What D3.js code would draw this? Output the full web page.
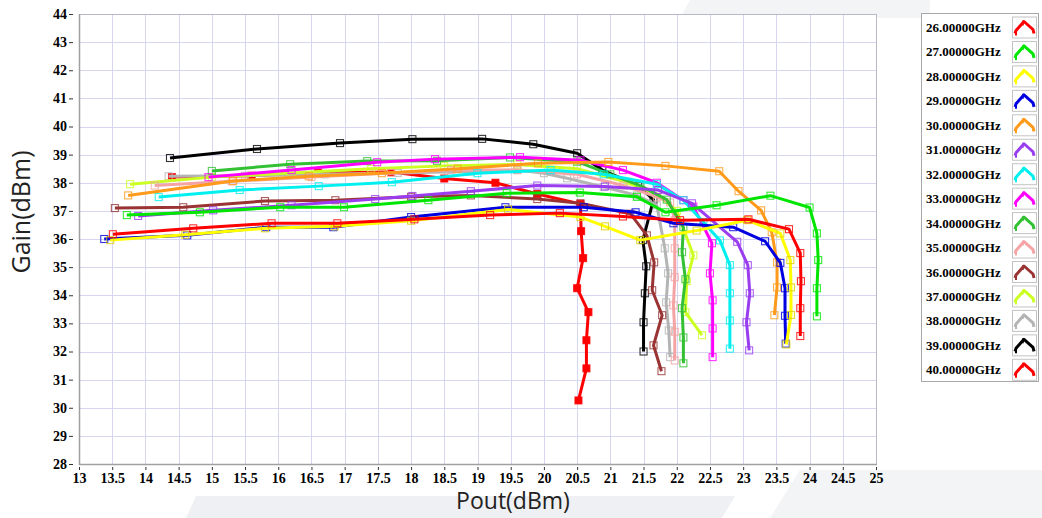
<!DOCTYPE html>
<html>
<head>
<meta charset="utf-8">
<script src="https://cdn.jsdelivr.net/npm/d3@7"></script>
<style>
  html, body { margin: 0; padding: 0; background: #ffffff; }
  svg { display: block; }
</style>
</head>
<body>
<svg id="chart" width="1042" height="518"></svg>
<script>
// ---------------- DATA ----------------
const seriesNames = ["26.00000GHz","27.00000GHz","28.00000GHz","29.00000GHz","30.00000GHz",
  "31.00000GHz","32.00000GHz","33.00000GHz","34.00000GHz","35.00000GHz",
  "36.00000GHz","37.00000GHz","38.00000GHz","39.00000GHz","40.00000GHz"];
const seriesColors = ["#ff0000","#00e600","#ffff00","#0000e0","#ff9a1a",
  "#9a3cf0","#00f0f0","#ff00ff","#33c033","#f4a4a4",
  "#9a3434","#ccff22","#b4b4b4","#000000","#ff0000"];

// [Pout, Gain] pairs
const s26 = [[13.51,36.17],[14.72,36.38],[15.9,36.56],[16.89,36.56],[18.05,36.7],[19.19,36.85],[20.24,36.92],[21.19,36.8],[22.05,36.67],[23.08,36.7],[23.69,36.35],[23.86,35.5],[23.87,34.5],[23.86,33.54],[23.86,32.55]];
const s27 = [[13.72,36.85],[14.82,36.95],[16.03,37.13],[16.99,37.13],[18.26,37.38],[19.44,37.63],[20.54,37.65],[21.4,37.5],[21.83,36.95],[22.6,37.2],[23.41,37.54],[24.0,37.12],[24.11,36.2],[24.13,35.25],[24.11,34.25],[24.11,33.25]];
const s28 = [[13.47,35.96],[14.6,36.15],[15.8,36.38],[16.85,36.45],[18.0,36.65],[19.46,37.05],[20.55,36.78],[20.92,36.45],[21.45,35.96],[22.3,36.3],[23.06,36.67],[23.56,36.2],[23.71,35.25],[23.72,34.28],[23.72,33.3],[23.65,32.25]];
const s29 = [[13.38,36.0],[14.63,36.13],[15.82,36.42],[16.83,36.42],[18.0,36.78],[19.42,37.13],[20.6,37.13],[21.38,36.95],[21.95,36.56],[22.85,36.42],[23.33,35.92],[23.56,35.15],[23.63,34.25],[23.63,33.27],[23.64,32.28]];
const s30 = [[13.74,37.55],[15.32,38.06],[16.46,38.23],[17.56,38.34],[18.7,38.5],[19.91,38.69],[20.97,38.74],[21.83,38.6],[22.64,38.41],[22.93,37.7],[23.27,37.02],[23.43,36.24],[23.51,35.17],[23.51,34.28],[23.47,33.29]];
const s31 = [[13.89,36.82],[15.02,37.02],[16.2,37.2],[17.46,37.42],[18.02,37.53],[18.9,37.7],[19.9,37.9],[20.92,37.87],[21.72,37.74],[22.23,37.27],[22.91,35.9],[23.07,35.07],[23.1,34.07],[23.05,33.04],[23.09,32.04]];
const s32 = [[14.2,37.49],[15.42,37.74],[16.61,37.88],[17.71,38.02],[19.0,38.34],[20.1,38.45],[20.9,38.3],[21.7,37.95],[22.1,37.38],[22.4,36.6],[22.65,35.95],[22.8,35.07],[22.8,34.07],[22.8,33.1],[22.8,32.1]];
const s33 = [[14.95,38.2],[16.2,38.45],[17.49,38.73],[18.36,38.84],[19.64,38.91],[20.55,38.8],[21.19,38.45],[21.7,38.0],[22.1,37.38],[22.25,37.15],[22.53,35.85],[22.5,34.78],[22.54,33.82],[22.54,32.82],[22.54,31.8]];
const s34 = [[15.0,38.42],[16.18,38.66],[17.34,38.77],[18.39,38.78],[19.49,38.9],[20.5,38.75],[21.0,38.3],[21.45,37.9],[21.85,37.4],[22.1,36.42],[22.08,35.53],[22.13,34.57],[22.08,33.54],[22.1,32.5],[22.1,31.58]];
const s35 = [[14.14,37.9],[15.3,38.05],[16.5,38.2],[17.7,38.35],[18.6,38.45],[19.6,38.45],[20.5,38.3],[21.2,37.9],[21.7,37.5],[21.9,37.3],[21.97,36.67],[21.97,35.67],[21.97,34.64],[21.95,33.64],[21.97,32.7],[21.97,31.68]];
const s36 = [[13.54,37.1],[14.57,37.13],[15.8,37.35],[16.86,37.38],[18.0,37.5],[18.9,37.55],[19.9,37.42],[20.55,37.27],[21.3,36.9],[21.55,36.13],[21.66,35.17],[21.63,34.18],[21.78,33.29],[21.65,32.22],[21.77,31.3]];
const s37 = [[13.77,37.95],[15.0,38.2],[16.2,38.35],[17.4,38.5],[18.5,38.6],[19.6,38.65],[20.5,38.5],[21.2,38.05],[21.7,37.6],[22.0,37.0],[22.25,35.42],[22.15,34.5],[22.13,33.4],[22.38,32.58]];
const s38 = [[14.35,38.23],[15.5,38.25],[16.7,38.3],[17.8,38.35],[18.9,38.4],[19.6,38.45],[20.0,38.34],[20.35,38.16],[20.9,37.85],[21.4,37.55],[21.7,37.2],[21.82,35.67],[21.87,34.78],[21.84,33.75],[21.88,32.75],[21.9,31.8]];
const s39 = [[14.37,38.88],[15.68,39.2],[16.93,39.41],[18.02,39.55],[19.07,39.56],[19.84,39.37],[20.5,39.05],[20.88,38.45],[21.42,37.9],[21.65,37.4],[21.49,35.96],[21.54,35.03],[21.52,34.07],[21.5,33.04],[21.5,32.0]];
const s40 = [[14.4,38.2],[15.6,38.25],[16.6,38.35],[17.7,38.38],[18.5,38.15],[19.27,38.0],[19.9,37.6],[20.55,37.25],[20.56,36.28],[20.59,35.32],[20.5,34.25],[20.67,33.4],[20.64,32.4],[20.64,31.4],[20.52,30.26]];
const seriesData = [s26,s27,s28,s29,s30,s31,s32,s33,s34,s35,s36,s37,s38,s39,s40];
const filledMarkers = [false,false,false,false,false,false,false,false,false,false,false,false,false,false,true];

const xTicks = [13,13.5,14,14.5,15,15.5,16,16.5,17,17.5,18,18.5,19,19.5,20,20.5,21,21.5,22,22.5,23,23.5,24,24.5,25];
const yTicks = [28,29,30,31,32,33,34,35,36,37,38,39,40,41,42,43,44];
const xTitle = "Pout(dBm)";
const yTitle = "Gain(dBm)";

// ---------------- DRAW ----------------
const svg = d3.select("#chart");
const L = 79, R = 876, T = 14, B = 464;
const x = d3.scaleLinear().domain([13,25]).range([L,R]);
const y = d3.scaleLinear().domain([28,44]).range([B,T]);

// faint background decoration
const deco = svg.append("g");
deco.append("path").attr("d","M196,496 L735,496 L722,518 L186,518 Z").attr("fill","#eff0f3");
deco.append("path").attr("d","M800,470 L1042,470 L1042,518 L770,518 Z").attr("fill","#f3f4f6");
deco.append("path").attr("d","M690,0 L930,0 L930,18 L680,18 Z").attr("fill","#f3f4f6");

// plot background
svg.append("rect").attr("x",L).attr("y",T).attr("width",R-L).attr("height",B-T).attr("fill","#ffffff");

// grid
const grid = svg.append("g").attr("stroke","#d6d6f0").attr("stroke-width",1);
xTicks.slice(1,-1).forEach(v => grid.append("line")
  .attr("x1",Math.round(x(v))+0.5).attr("x2",Math.round(x(v))+0.5).attr("y1",T).attr("y2",B));
yTicks.slice(1,-1).forEach(v => grid.append("line")
  .attr("y1",Math.round(y(v))+0.5).attr("y2",Math.round(y(v))+0.5).attr("x1",L).attr("x2",R));

// frame
svg.append("rect").attr("x",L+0.5).attr("y",T+0.5).attr("width",R-L).attr("height",B-T)
  .attr("fill","none").attr("stroke","#b8b8c8").attr("stroke-width",1);
svg.append("line").attr("x1",L+0.5).attr("x2",L+0.5).attr("y1",T).attr("y2",B+1).attr("stroke","#a0a0a0").attr("stroke-width",1.5);
svg.append("line").attr("x1",L).attr("x2",R+1).attr("y1",B+0.5).attr("y2",B+0.5).attr("stroke","#a0a0a0").attr("stroke-width",1.5);

// axes
const tickFont = "'Liberation Serif', 'DejaVu Serif', serif";
const yAxis = svg.append("g").attr("transform",`translate(${L-6},0)`)
  .call(d3.axisLeft(y).tickValues(yTicks).tickSize(4).tickPadding(2).tickFormat(d => d));
const xAxis = svg.append("g").attr("transform",`translate(0,${B+3})`)
  .call(d3.axisBottom(x).tickValues(xTicks).tickSize(3).tickPadding(3).tickFormat(d => d));
[yAxis,xAxis].forEach(g => {
  g.select(".domain").remove();
  g.selectAll(".tick line").attr("stroke","#333").attr("stroke-width",1);
  g.selectAll(".tick text").attr("fill","#000").style("font-family",tickFont)
    .style("font-weight","bold").style("font-size","14px");
});

// axis titles
svg.append("text").attr("x",513).attr("y",509).attr("text-anchor","middle")
  .style("font-family","'Open Sans', 'Noto Sans', sans-serif").style("font-size","23px").attr("fill","#222")
  .text(xTitle);
svg.append("text").attr("transform","translate(30,212) rotate(-90)").attr("text-anchor","middle")
  .style("font-family","'Open Sans', 'Noto Sans', sans-serif").style("font-size","25px").attr("fill","#222")
  .text(yTitle);

// series (drawn 40 -> 26 so lower frequencies sit on top)
const line = d3.line().x(d => x(d[0])).y(d => y(d[1]));
const plot = svg.append("g");
const order = d3.range(seriesData.length).reverse();
order.forEach(i => {
  const g = plot.append("g");
  g.append("path").datum(seriesData[i]).attr("d",line).attr("fill","none")
    .attr("stroke",seriesColors[i]).attr("stroke-width",3).attr("stroke-linejoin","round");
  g.selectAll("rect").data(seriesData[i]).enter().append("rect")
    .attr("x",d => x(d[0]) - 3.5).attr("y",d => y(d[1]) - 3.5)
    .attr("width",7).attr("height",7)
    .attr("fill", filledMarkers[i] ? seriesColors[i] : "none")
    .attr("stroke", seriesColors[i] === "#ffff00" ? "#e0d000" : seriesColors[i])
    .attr("stroke-opacity",0.8).attr("stroke-width",1.1);
});

// legend
const lg = svg.append("g");
const lgX = 921, lgY = 13, lgW = 117, lgH = 368, step = 24.45;
lg.append("rect").attr("x",lgX+0.5).attr("y",lgY+0.5).attr("width",lgW).attr("height",lgH)
  .attr("fill","#fff").attr("stroke","#a8a8a8");
seriesNames.forEach((name,i) => {
  const cy = 27.5 + i*step;
  lg.append("text").attr("x",926).attr("y",cy+4.5).text(name)
    .style("font-family",tickFont).style("font-weight","bold").style("font-size","13px").attr("fill","#000");
  lg.append("rect").attr("x",1012.5).attr("y",cy-10.5).attr("width",24).attr("height",21)
    .attr("fill","#fff").attr("stroke","#c4c4c4");
  lg.append("path").attr("d",`M1015,${cy+6} L1016,${cy+3} L1024,${cy-6} L1033,${cy+2} L1034,${cy+6}`)
    .attr("fill","none").attr("stroke",seriesColors[i]).attr("stroke-width",3).attr("stroke-linejoin","round");
  lg.append("path").attr("d",`M1016,${cy+2} L1016,${cy+8}`).attr("stroke",seriesColors[i]).attr("stroke-width",2);
  lg.append("path").attr("d",`M1023,${cy-7} L1023,${cy-2}`).attr("stroke",seriesColors[i]).attr("stroke-width",1.5);
});
</script>
</body>
</html>
